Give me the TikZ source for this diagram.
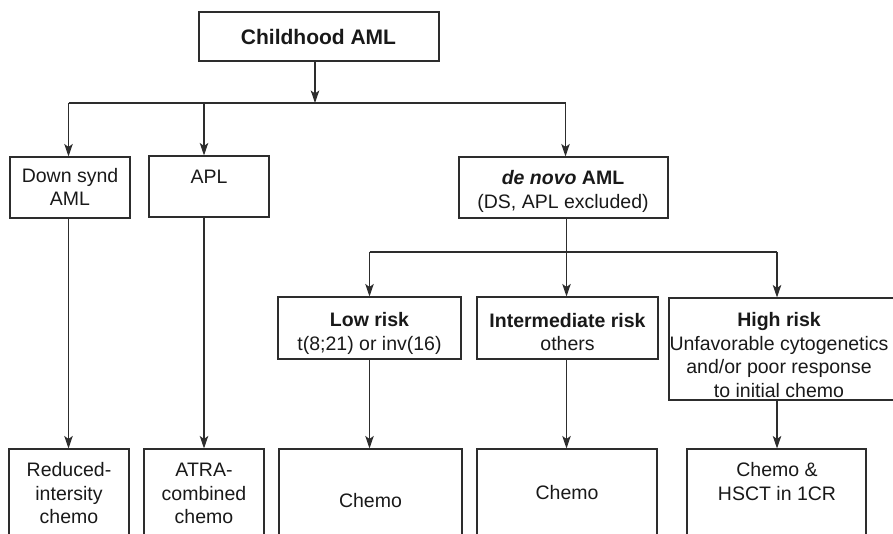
\documentclass[tikz,border=0pt]{standalone}
\usepackage{fontspec}
\setmainfont{Liberation Sans}
\usetikzlibrary{arrows.meta}
\definecolor{linec}{RGB}{45,45,45}
\definecolor{txtc}{RGB}{25,25,25}
\begin{document}
\begin{tikzpicture}[x=1pt,y=-1pt,
  box/.style={draw=linec, line width=1.1pt, inner sep=0pt},
  txt/.style={align=center, inner sep=0pt, font=\fontsize{19.5}{23.5}\selectfont, text=txtc},
  conn/.style={draw=linec, line width=1.1pt},
  arr/.style={conn, -{Stealth[length=12.5pt,width=8.5pt,inset=3pt]}},
]
\useasboundingbox (0,0) rectangle (893,534);
\clip (0,0) rectangle (893,534);
% boxes
\node[box, minimum width=240pt, minimum height=49pt] (title) at (319,36.5) {};
\node[box, minimum width=120pt, minimum height=61pt] (ds) at (70,187.5) {};
\node[box, minimum width=120pt, minimum height=61pt] (apl) at (209,186.5) {};
\node[box, minimum width=209pt, minimum height=61pt] (dn) at (563.5,187.5) {};
\node[box, minimum width=183pt, minimum height=62pt] (low) at (369.5,328) {};
\node[box, minimum width=181pt, minimum height=62pt] (int) at (567.5,328) {};
\node[box, minimum width=241pt, minimum height=102pt] (high) at (789.5,349) {};
\node[box, minimum width=120pt, minimum height=121pt] (b1) at (69,509.5) {};
\node[box, minimum width=120pt, minimum height=121pt] (b2) at (204,509.5) {};
\node[box, minimum width=183pt, minimum height=121pt] (b3) at (370.5,509.5) {};
\node[box, minimum width=180pt, minimum height=121pt] (b4) at (567,509.5) {};
\node[box, minimum width=179pt, minimum height=121pt] (b5) at (776.5,509.5) {};
% texts
\node[txt, font=\fontsize{21}{25}\selectfont\bfseries] (titlet) at (318.5,36.5) {Childhood AML};
\node[txt] (dst) at (70,187) {Down synd\\AML};
\node[txt] (aplt) at (209,177) {APL};
\node[txt] (dnt) at (563,191.5) {\textbf{\textit{de novo} AML}\\(DS, APL excluded)};
\node[txt] (lowt) at (369.5,333.5) {\textbf{Low risk}\\t(8;21) or inv(16)};
\node[txt] (intt) at (567.5,332) {\textbf{Intermediate risk}\\others};
\node[txt] (hight) at (779,355) {\textbf{High risk}\\Unfavorable cytogenetics\\and/or poor response\\to initial chemo};
\node[txt] (b1t) at (69,493.5) {Reduced-\\intersity\\chemo};
\node[txt] (b2t) at (204,493.5) {ATRA-\\combined\\chemo};
\node[txt] (b3t) at (370.5,501) {Chemo};
\node[txt] (b4t) at (567,493) {Chemo};
\node[txt] (b5t) at (777,481.5) {Chemo \&\\HSCT in 1CR};
% junctions
\coordinate (j1) at (315,103);
\coordinate (h1l) at (68.5,103);
\coordinate (h1a) at (204,103);
\coordinate (h1r) at (565.5,103);
\coordinate (j2) at (566.5,252);
\coordinate (h2l) at (369.5,252);
\coordinate (h2r) at (777,252);
% connectors
\draw[arr] (title.south -| j1) -- (j1);
\draw[conn] (h1l) -- (h1r);
\draw[arr] (h1l) -- (h1l |- ds.north);
\draw[arr] (h1a) -- (h1a |- apl.north);
\draw[arr] (h1r) -- (h1r |- dn.north);
\draw[arr] (h1l |- ds.south) -- (h1l |- b1.north);
\draw[arr] (h1a |- apl.south) -- (h1a |- b2.north);
\draw[conn] (dn.south -| j2) -- (j2);
\draw[conn] (h2l) -- (h2r);
\draw[arr] (h2l) -- (h2l |- low.north);
\draw[arr] (j2) -- (j2 |- int.north);
\draw[arr] (h2r) -- (h2r |- high.north);
\draw[arr] (h2l |- low.south) -- (h2l |- b3.north);
\draw[arr] (j2 |- int.south) -- (j2 |- b4.north);
\draw[arr] (h2r |- high.south) -- (h2r |- b5.north);
\end{tikzpicture}
\end{document}
